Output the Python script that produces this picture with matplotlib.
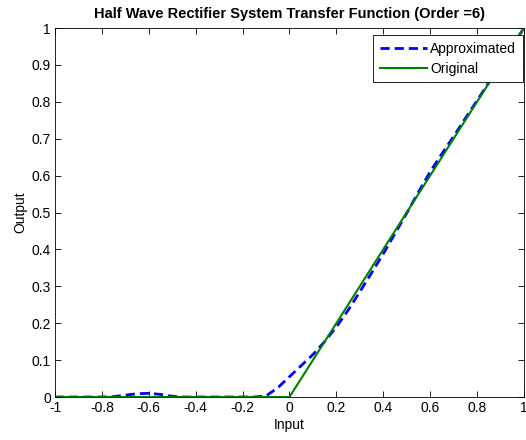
import numpy as np
import matplotlib
matplotlib.use('Agg')
import matplotlib.pyplot as plt

plt.rcParams['font.family'] = ['Liberation Sans', 'DejaVu Sans']

# approximated transfer function (order 6)
x_approx = [-1, -0.9, -0.8, -0.75, -0.7, -0.65, -0.6, -0.55, -0.5, -0.45, -0.4,
            -0.3, -0.2, -0.15, -0.1, -0.05, 0, 0.05, 0.1, 0.15, 0.2, 0.25, 0.3,
            0.35, 0.4, 0.45, 0.5, 0.55, 0.6, 0.65, 0.7, 0.75, 0.8, 0.85, 0.9,
            0.95, 1.0]
y_approx = [0, 0, 0, 0.001, 0.005, 0.009, 0.01, 0.007, 0.002, 0, 0,
            0, 0, 0, 0.003, 0.025, 0.055, 0.085, 0.115, 0.15, 0.19, 0.235, 0.285,
            0.336, 0.388, 0.443, 0.498, 0.555, 0.61, 0.659, 0.706, 0.755, 0.803,
            0.852, 0.9, 0.95, 1.0]

# original half wave rectifier
x_orig = [-1, 0, 1]
y_orig = [0, 0, 1]

fig = plt.figure(figsize=(5.26, 4.4), dpi=100)
ax = fig.add_axes([0.1046, 0.0977, 0.8914, 0.8386])

ax.plot(x_approx, y_approx, '--', color='#0000ff', lw=2, label='Approximated', dashes=(3.3, 1.8))
ax.plot(x_orig, y_orig, '-', color='#007f00', lw=1.5, label='Original')

ax.set_xlim(-1, 1)
ax.set_ylim(0, 1)
ax.set_xticks(np.arange(-1, 1.01, 0.2))
ax.set_yticks(np.arange(0, 1.01, 0.1))
ax.set_xticklabels(['-1', '-0.8', '-0.6', '-0.4', '-0.2', '0', '0.2', '0.4', '0.6', '0.8', '1'])
ax.set_yticklabels(['0', '0.1', '0.2', '0.3', '0.4', '0.5', '0.6', '0.7', '0.8', '0.9', '1'])
ax.tick_params(direction='in', top=True, right=True, length=4, labelsize=10, width=0.6, pad=3)
for s in ax.spines.values():
    s.set_linewidth(0.6)

ax.set_xlabel('Input', fontsize=10, labelpad=2)
ax.set_ylabel('Output', fontsize=10, labelpad=3)
ax.set_title('Half Wave Rectifier System Transfer Function (Order =6)', fontsize=10.5,
             fontweight='bold', pad=7)

leg = ax.legend(loc='upper right', bbox_to_anchor=(0.998, 0.981), borderaxespad=0,
                fontsize=10, fancybox=False, framealpha=1, edgecolor='black',
                handlelength=3.4, handletextpad=0.2, borderpad=0.5, labelspacing=0.4)
leg.get_frame().set_linewidth(0.6)

fig.savefig('out.png', dpi=100)
